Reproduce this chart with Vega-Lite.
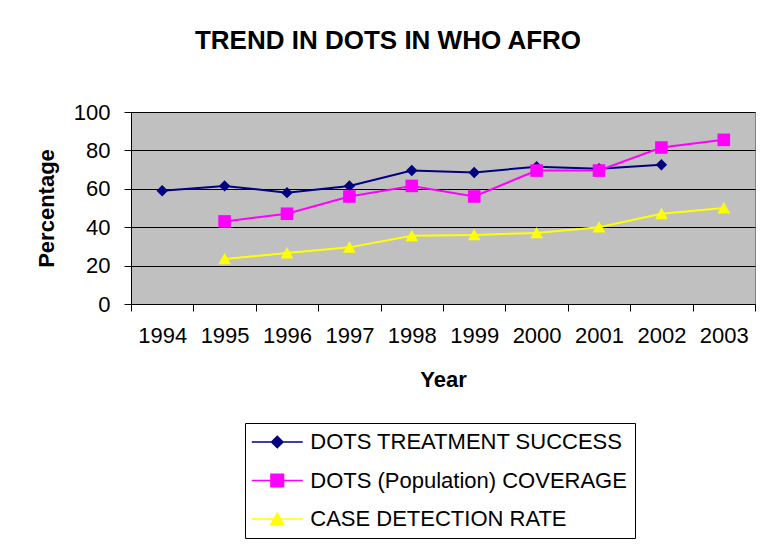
{
  "$schema": "https://vega.github.io/schema/vega-lite/v6.json",
  "width": 624,
  "height": 192,
  "autosize": "none",
  "padding": {"left": 131, "top": 112, "right": 6, "bottom": 244},
  "background": "white",
  "title": {
    "text": "TREND IN DOTS IN WHO AFRO",
    "font": "Liberation Sans",
    "fontSize": 26,
    "fontWeight": "bold",
    "color": "black",
    "anchor": "middle",
    "frame": "group",
    "dx": -55,
    "offset": 47
  },
  "config": {
    "view": {"fill": "#C0C0C0", "stroke": "#808080", "strokeWidth": 1},
    "axis": {
      "labelFont": "Liberation Sans",
      "titleFont": "Liberation Sans",
      "labelFontSize": 22,
      "titleFontSize": 22,
      "titleFontWeight": "bold",
      "labelColor": "black",
      "titleColor": "black",
      "domainColor": "black",
      "tickColor": "black",
      "domainWidth": 1,
      "tickWidth": 1,
      "tickSize": 7
    },
    "legend": {"labelFont": "Liberation Sans"}
  },
  "data": {
    "values": [
      {"year": "1994", "series": "DOTS TREATMENT SUCCESS", "value": 59},
      {"year": "1995", "series": "DOTS TREATMENT SUCCESS", "value": 61.5},
      {"year": "1996", "series": "DOTS TREATMENT SUCCESS", "value": 58},
      {"year": "1997", "series": "DOTS TREATMENT SUCCESS", "value": 61.5},
      {"year": "1998", "series": "DOTS TREATMENT SUCCESS", "value": 69.5},
      {"year": "1999", "series": "DOTS TREATMENT SUCCESS", "value": 68.5},
      {"year": "2000", "series": "DOTS TREATMENT SUCCESS", "value": 71.5},
      {"year": "2001", "series": "DOTS TREATMENT SUCCESS", "value": 70.5},
      {"year": "2002", "series": "DOTS TREATMENT SUCCESS", "value": 72.5},
      {"year": "1995", "series": "DOTS (Population) COVERAGE", "value": 43},
      {"year": "1996", "series": "DOTS (Population) COVERAGE", "value": 47},
      {"year": "1997", "series": "DOTS (Population) COVERAGE", "value": 56},
      {"year": "1998", "series": "DOTS (Population) COVERAGE", "value": 61.5},
      {"year": "1999", "series": "DOTS (Population) COVERAGE", "value": 56},
      {"year": "2000", "series": "DOTS (Population) COVERAGE", "value": 69.5},
      {"year": "2001", "series": "DOTS (Population) COVERAGE", "value": 69.5},
      {"year": "2002", "series": "DOTS (Population) COVERAGE", "value": 81.5},
      {"year": "2003", "series": "DOTS (Population) COVERAGE", "value": 85.5},
      {"year": "1995", "series": "CASE DETECTION RATE", "value": 23.5},
      {"year": "1996", "series": "CASE DETECTION RATE", "value": 26.5},
      {"year": "1997", "series": "CASE DETECTION RATE", "value": 29.5},
      {"year": "1998", "series": "CASE DETECTION RATE", "value": 35.5},
      {"year": "1999", "series": "CASE DETECTION RATE", "value": 36},
      {"year": "2000", "series": "CASE DETECTION RATE", "value": 37},
      {"year": "2001", "series": "CASE DETECTION RATE", "value": 40},
      {"year": "2002", "series": "CASE DETECTION RATE", "value": 47},
      {"year": "2003", "series": "CASE DETECTION RATE", "value": 50}
    ]
  },
  "encoding": {
    "x": {
      "field": "year",
      "type": "ordinal",
      "scale": {"type": "band", "paddingInner": 0, "paddingOuter": 0},
      "axis": {
        "title": "Year",
        "labelAngle": 0,
        "tickBand": "extent",
        "labelPadding": 14,
        "titlePadding": 23,
        "grid": false
      }
    },
    "y": {
      "field": "value",
      "type": "quantitative",
      "scale": {"domain": [0, 100], "nice": false},
      "axis": {
        "title": "Percentage",
        "values": [0, 20, 40, 60, 80, 100],
        "grid": true,
        "gridColor": "black",
        "gridWidth": 1,
        "gridOpacity": 1,
        "labelPadding": 14,
        "titlePadding": 15
      }
    },
    "color": {
      "field": "series",
      "type": "nominal",
      "scale": {
        "domain": ["DOTS TREATMENT SUCCESS", "DOTS (Population) COVERAGE", "CASE DETECTION RATE"],
        "range": ["#000080", "#FF00FF", "#FFFF00"]
      },
      "legend": null
    }
  },
  "layer": [
    {
      "mark": {"type": "line", "strokeWidth": 2},
      "encoding": {
        "color": {
          "field": "series",
          "type": "nominal",
          "scale": {
            "domain": ["DOTS TREATMENT SUCCESS", "DOTS (Population) COVERAGE", "CASE DETECTION RATE"],
            "range": ["#000080", "#FF00FF", "#FFFF00"]
          },
          "legend": {
            "title": null,
            "orient": "none",
            "legendX": 114,
            "legendY": 311,
            "padding": 8,
            "strokeColor": "black",
            "fillColor": "white",
            "labelFont": "Liberation Sans",
            "labelFontSize": 22,
            "labelColor": "black",
            "labelLimit": 400,
            "symbolType": "M-4.25,0H4.25",
            "symbolSize": 144,
            "symbolStrokeWidth": 1.5,
            "symbolOffset": 13.25,
            "labelOffset": 22,
            "rowPadding": 16.5,
            "encode": {
              "symbols": {
                "update": {
                  "shape": {"signal": "datum.value === 'DOTS TREATMENT SUCCESS' ? 'M-4.25,0H4.25M0,-0.95L0.95,0L0,0.95L-0.95,0Z' : datum.value === 'DOTS (Population) COVERAGE' ? 'M-4.25,0H4.25M-1.05,-1.05H1.05V1.05H-1.05Z' : 'M-4.25,0H4.25M0,-1L1.05,0.9H-1.05Z'"},
                  "fill": {"scale": "color", "field": "value"},
                  "stroke": {"scale": "color", "field": "value"},
                  "strokeWidth": {"value": 1.5},
                  "opacity": {"value": 1},
                  "strokeOpacity": {"value": 1},
                  "fillOpacity": {"value": 1}
                }
              }
            }
          }
        }
      }
    },
    {
      "transform": [{"filter": "datum.series === 'DOTS TREATMENT SUCCESS'"}],
      "mark": {"type": "point", "filled": true, "opacity": 1, "size": 144, "shape": "M0,-0.95L0.95,0L0,0.95L-0.95,0Z"}
    },
    {
      "transform": [{"filter": "datum.series === 'DOTS (Population) COVERAGE'"}],
      "mark": {"type": "point", "filled": true, "opacity": 1, "size": 144, "shape": "M-1.05,-1.05H1.05V1.05H-1.05Z"}
    },
    {
      "transform": [{"filter": "datum.series === 'CASE DETECTION RATE'"}],
      "mark": {"type": "point", "filled": true, "opacity": 1, "size": 144, "shape": "M0,-1L1.05,0.9H-1.05Z"}
    }
  ]
}
